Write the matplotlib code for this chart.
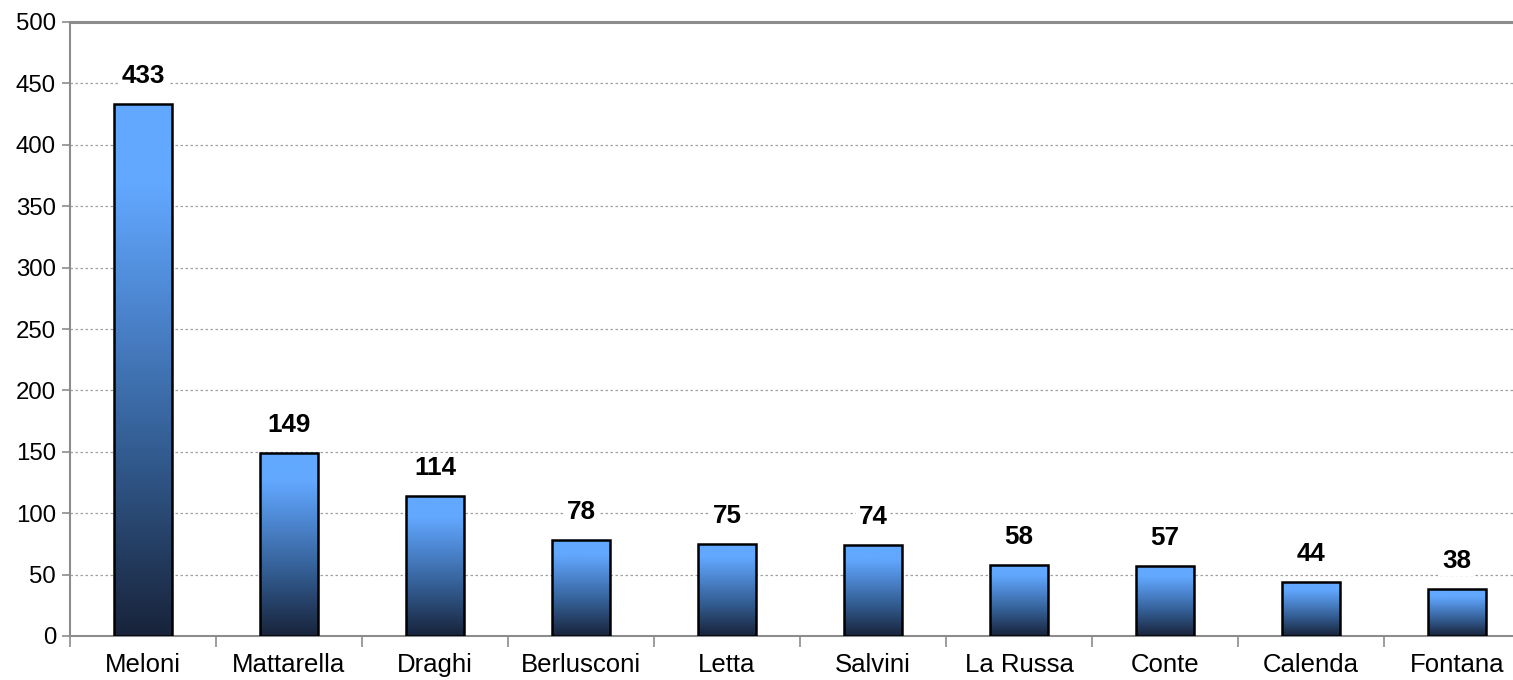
import numpy as np
import matplotlib.pyplot as plt
from matplotlib.colors import LinearSegmentedColormap

# =========================================================
# DATA
# =========================================================
names = ["Meloni", "Mattarella", "Draghi", "Berlusconi", "Letta",
         "Salvini", "La Russa", "Conte", "Calenda", "Fontana"]
values = [433, 149, 114, 78, 75, 74, 58, 57, 44, 38]

y_ticks = [0, 50, 100, 150, 200, 250, 300, 350, 400, 450, 500]

# =========================================================
# STYLE
# =========================================================
plt.rcParams["font.family"] = ["Liberation Sans", "DejaVu Sans"]

GREY = "#8c8c8c"
BAR_W = 0.40

grad_cmap = LinearSegmentedColormap.from_list(
    "bar_grad",
    [(0.0, "#18233a"), (0.35, "#335d92"), (0.65, "#4f8ad6"),
     (0.85, "#62a8ff"), (1.0, "#62a8ff")]
)

fig = plt.figure(figsize=(15.13, 6.8), dpi=100)
ax = fig.add_axes([70 / 1513, 44 / 680, 1460 / 1513, 614 / 680])

x = np.arange(len(names))

# grid
ax.set_yticks(y_ticks)
ax.yaxis.grid(True, linestyle=(0, (2, 2)), color="#a0a0a0", linewidth=0.9)
ax.set_axisbelow(True)

# gradient bars
grad = np.linspace(0, 1, 256).reshape(-1, 1)
for xi, v in zip(x, values):
    rect = plt.Rectangle((xi - BAR_W / 2, 0), BAR_W, v,
                         facecolor="none", edgecolor="black",
                         linewidth=1.8, zorder=4)
    ax.add_patch(rect)
    im = ax.imshow(grad, cmap=grad_cmap, origin="lower", aspect="auto",
                   extent=(xi - BAR_W / 2, xi + BAR_W / 2, 0, v), zorder=3)
    im.set_clip_path(rect)
    ax.text(xi, v + 23, str(v), ha="center", va="center",
            fontsize=18.7, fontweight="bold", zorder=5,
            bbox=dict(facecolor="white", edgecolor="none", pad=2))

ax.set_xlim(-0.5, len(names) - 0.5)
ax.set_ylim(0, 500)

# x ticks: marks at category boundaries, labels at centres
ax.set_xticks(np.arange(len(names) + 1) - 0.5)
ax.set_xticklabels([])
ax.set_xticks(x, minor=True)
ax.set_xticklabels(names, minor=True, fontsize=18.5)
ax.tick_params(axis="x", which="major", length=8, color=GREY, width=1.2)
ax.tick_params(axis="x", which="minor", length=0, pad=12)
ax.tick_params(axis="y", length=6, color=GREY, width=1.2, labelsize=17.3, pad=4)

for side in ["left", "bottom", "top"]:
    ax.spines[side].set_color(GREY)
    ax.spines[side].set_linewidth(1.5)
ax.spines["top"].set_linewidth(2.2)
ax.spines["right"].set_visible(False)

fig.savefig("out.png", dpi=100)
